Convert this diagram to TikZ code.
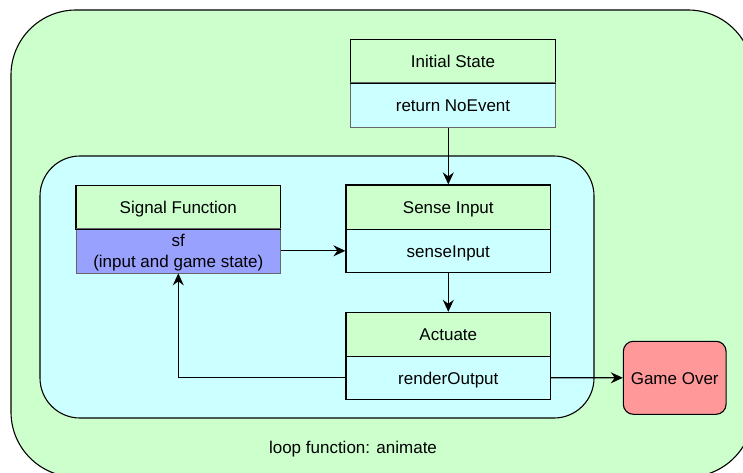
\documentclass[tikz,border=0pt]{standalone}
\usepackage{fontspec}
\setmainfont{Liberation Sans}
\usetikzlibrary{arrows.meta}
\definecolor{lgreen}{HTML}{CCFFCC}
\definecolor{lcyan}{HTML}{CCFFFF}
\definecolor{lblue}{HTML}{99A1FF}
\definecolor{lred}{HTML}{FF9999}
\tikzset{
  box/.style={draw=black, line width=1.1pt, rectangle, inner sep=0pt, align=center,
    font=\fontsize{17}{20.4}\selectfont},
  one/.style={text height=13pt, text depth=-1pt},
  head/.style={box, one, fill=lgreen},
  body/.style={box, one, fill=lcyan},
  conn/.style={line width=1.2pt, -{Stealth[length=12pt,width=11pt,inset=4pt]}}
}
\begin{document}
\begin{tikzpicture}[x=1pt,y=-1pt]
\useasboundingbox (0,0) rectangle (743,472);
\clip (0,0) rectangle (743,472);
% outer loop container
\draw[fill=lgreen, line width=1.1pt, rounded corners=65pt] (11,10) rectangle (753,477);
\node[font=\fontsize{17}{20.4}\selectfont, one] (looplbl) at (353,447) {loop function: animate};
% inner container
\draw[fill=lcyan, line width=1.1pt, rounded corners=40pt] (40,156) rectangle (594,418);
% Initial State
\node[head, minimum width=204.6pt, minimum height=43.4pt] (initH) at (453,61) {Initial State};
\node[body, draw=black!60, line width=0.8pt, minimum width=204.6pt, minimum height=44.6pt] (initB) at (453,105) {return NoEvent};
\draw[line width=1.1pt] (initH.south west) -- (initH.south east);
% Signal Function
\node[head, minimum width=204.7pt, minimum height=43.7pt] (sigH) at (178.3,207) {Signal Function};
\node[box, fill=lblue, draw=black!60, line width=0.8pt, minimum width=204.7pt, minimum height=44.3pt] (sigB) at (178.3,250.8) {\rule{0pt}{16pt}sf\\(input and game state)};
\draw[line width=1.1pt] (sigH.south west) -- (sigH.south east);
% Sense Input
\node[head, minimum width=204.7pt, minimum height=44.3pt] (senseH) at (448.3,207.1) {Sense Input};
\node[body, minimum width=204.7pt, minimum height=43pt] (senseB) at (448.3,250.8) {senseInput};
% Actuate
\node[head, minimum width=204.7pt, minimum height=43.7pt] (actH) at (448.3,334.2) {Actuate};
\node[body, minimum width=204.7pt, minimum height=43.3pt] (actB) at (448.3,377.7) {renderOutput};
% Game Over
\node[box, one, fill=lred, rounded corners=10pt, minimum width=102.7pt, minimum height=73pt] (over) at (674.7,377.8) {Game Over};
% connectors
\draw[conn] (initB.south -| senseH.north) -- (senseH.north);
\draw[conn] (sigB.east) -- (senseB.west);
\draw[conn] (senseB.south) -- (actH.north);
\draw[conn] (actB.west) -| (sigB.south);
\draw[conn] (actB.east) -- (over.west);
\end{tikzpicture}
\end{document}
